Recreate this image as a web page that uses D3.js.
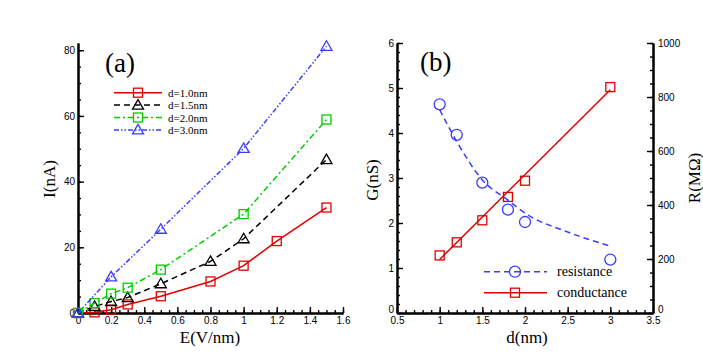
<!DOCTYPE html>
<html>
<head>
<meta charset="utf-8">
<script src="https://cdn.jsdelivr.net/npm/d3@7"></script>
<style>
  body { margin: 0; background: #fff; }
  .tick text { font-family: "Liberation Sans", Arial, sans-serif; font-size: 10px; fill: #000; }
  .title { font-family: "Liberation Serif", "Times New Roman", serif; fill: #000; }
</style>
</head>
<body>
<div class="content"></div>
<script>
// panel (a): current vs field
var e10 = [0, 0.1, 0.2, 0.3, 0.5, 0.8, 1.0, 1.2, 1.5];
var i10 = [0, 0.2, 1.0, 2.6, 5.1, 9.6, 14.4, 21.9, 32.1];
var e15 = [0, 0.1, 0.2, 0.3, 0.5, 0.8, 1.0, 1.5];
var i15 = [0, 2.0, 3.5, 4.7, 8.9, 15.7, 22.6, 46.7];
var e20 = [0, 0.1, 0.2, 0.3, 0.5, 1.0, 1.5];
var i20 = [0, 3.0, 5.9, 7.7, 13.2, 30.1, 58.9];
var e30 = [0, 0.2, 0.5, 1.0, 1.5];
var i30 = [0, 11.0, 25.5, 50.1, 81.2];
var labelsA = ["d=1.0nm", "d=1.5nm", "d=2.0nm", "d=3.0nm"];
var eTicks = [0, 0.2, 0.4, 0.6, 0.8, 1, 1.2, 1.4, 1.6];
var iTicks = [0, 20, 40, 60, 80];

// panel (b): conductance / resistance vs distance
var dPts = [1, 1.2, 1.5, 1.8, 2, 3];
var gPts = [1.28, 1.57, 2.06, 2.58, 2.94, 5.02];
var rPts = [773, 660, 483, 383, 337, 198];
var gFitD = [1, 3];
var gFit = [1.19, 4.96];
var rFitD = [1, 1.2, 1.5, 1.8, 2, 2.5, 3];
var rFit = [753, 635, 493, 418, 370, 300, 248];
var labelsB = ["resistance", "conductance"];
var dTicks = [0.5, 1, 1.5, 2, 2.5, 3, 3.5];
var gTicks = [0, 1, 2, 3, 4, 5, 6];
var rTicks = [0, 200, 400, 600, 800, 1000];

var red = "#e00000", black = "#000", green = "#00cc00", blue = "#3c3cff";

var svg = d3.select(".content").append("svg")
  .attr("width", 703)
  .attr("height", 354);

function fmt(d) { return String(d); }

function drawAxis(g, axis) {
  g.call(axis);
  g.select(".domain").attr("stroke-width", 2);
  g.selectAll(".tick line").attr("stroke-width", 1.4);
  return g;
}

function marker(g, type, x, y, color) {
  if (type == "square") {
    g.append("rect").attr("x", x - 4.5).attr("y", y - 4.5)
      .attr("width", 9).attr("height", 9)
      .attr("fill", "none").attr("stroke", color).attr("stroke-width", 1.3);
  } else if (type == "triangle") {
    g.append("path")
      .attr("d", "M" + x + "," + (y - 5.5) + "L" + (x + 5.5) + "," + (y + 4) + "L" + (x - 5.5) + "," + (y + 4) + "Z")
      .attr("fill", "none").attr("stroke", color).attr("stroke-width", 1.3);
  } else {
    g.append("circle").attr("cx", x).attr("cy", y).attr("r", 5.5)
      .attr("fill", "none").attr("stroke", color).attr("stroke-width", 1.3);
  }
}

// ---------- panel (a) ----------
var xA = d3.scaleLinear().domain([0, 1.6]).range([78, 343]);
var yA = d3.scaleLinear().domain([0, 82.2]).range([313, 43]);

var seriesA = [
  {x: e10, y: i10, color: red, dash: null, mk: "square"},
  {x: e15, y: i15, color: black, dash: "6,4", mk: "triangle"},
  {x: e20, y: i20, color: green, dash: "6,3,2,3", mk: "square"},
  {x: e30, y: i30, color: blue, dash: "5,2,1.5,2,1.5,2", mk: "triangle"}
];

var lineA = d3.line().x(function(d) { return xA(d[0]); }).y(function(d) { return yA(d[1]); });

drawAxis(svg.append("g").attr("transform", "translate(0,313)"),
  d3.axisBottom(xA).tickValues(d3.range(0, 1.601, 0.05)).tickSize(-3).tickSizeOuter(0).tickFormat(""));
drawAxis(svg.append("g").attr("transform", "translate(0,313)"),
  d3.axisBottom(xA).tickValues(eTicks).tickSize(-6).tickSizeOuter(0).tickPadding(4).tickFormat(fmt));
drawAxis(svg.append("g").attr("transform", "translate(78,0)"),
  d3.axisLeft(yA).tickValues(d3.range(0, 81, 5)).tickSize(-3).tickSizeOuter(0).tickFormat(""));
drawAxis(svg.append("g").attr("transform", "translate(78,0)"),
  d3.axisLeft(yA).tickValues(iTicks).tickSize(-6).tickSizeOuter(0).tickPadding(3).tickFormat(fmt));

seriesA.forEach(function(s) {
  var pts = s.x.map(function(v, i) { return [v, s.y[i]]; });
  svg.append("path").datum(pts).attr("d", lineA)
    .attr("fill", "none").attr("stroke", s.color).attr("stroke-width", 1.5)
    .attr("stroke-dasharray", s.dash);
  var g = svg.append("g");
  pts.forEach(function(p) { marker(g, s.mk, xA(p[0]), yA(p[1]), s.color); });
});

// legend (a)
seriesA.forEach(function(s, i) {
  var ly = 92.7 + i * 12.4;
  svg.append("line").attr("x1", 114).attr("x2", 162).attr("y1", ly).attr("y2", ly)
    .attr("stroke", s.color).attr("stroke-width", 1.5).attr("stroke-dasharray", s.dash);
  marker(svg.append("g"), s.mk, 138, ly, s.color);
  svg.append("text").attr("class", "title").attr("x", 168).attr("y", ly + 4)
    .style("font-size", "11px").text(labelsA[i]);
});

svg.append("text").attr("class", "title").attr("x", 105).attr("y", 72)
  .style("font-size", "27px").text("(a)");
svg.append("text").attr("class", "title").attr("x", 210).attr("y", 343)
  .attr("text-anchor", "middle").style("font-size", "17px").text("E(V/nm)");
svg.append("text").attr("class", "title").attr("transform", "translate(55,179) rotate(-90)")
  .attr("text-anchor", "middle").style("font-size", "17px").text("I(nA)");

// ---------- panel (b) ----------
var xB = d3.scaleLinear().domain([0.5, 3.5]).range([397, 653]);
var yG = d3.scaleLinear().domain([0, 6]).range([313, 43]);
var yR = d3.scaleLinear().domain([0, 1000]).range([313, 43]);

drawAxis(svg.append("g").attr("transform", "translate(0,313)"),
  d3.axisBottom(xB).tickValues(d3.range(0.5, 3.501, 0.1)).tickSize(-3).tickSizeOuter(0).tickFormat(""));
drawAxis(svg.append("g").attr("transform", "translate(0,313)"),
  d3.axisBottom(xB).tickValues(dTicks).tickSize(-6).tickSizeOuter(0).tickPadding(4).tickFormat(fmt));
drawAxis(svg.append("g").attr("transform", "translate(397,0)"),
  d3.axisLeft(yG).tickValues(d3.range(0, 6.01, 0.2)).tickSize(-3).tickSizeOuter(0).tickFormat(""));
var gAxis = drawAxis(svg.append("g").attr("transform", "translate(397,0)"),
  d3.axisLeft(yG).tickValues(gTicks).tickSize(-6).tickSizeOuter(0).tickPadding(3).tickFormat(fmt));
drawAxis(svg.append("g").attr("transform", "translate(653,0)"),
  d3.axisRight(yR).tickValues(d3.range(0, 1001, 50)).tickSize(-3).tickSizeOuter(0).tickFormat(""));
var rAxis = drawAxis(svg.append("g").attr("transform", "translate(653,0)"),
  d3.axisRight(yR).tickValues(rTicks).tickSize(-6).tickSizeOuter(0).tickPadding(5).tickFormat(fmt));
// the zero labels sit a little higher, clear of the bottom labels
gAxis.selectAll(".tick text").filter(function(d) { return d === 0; }).attr("dy", "-0.1em");
rAxis.selectAll(".tick text").filter(function(d) { return d === 0; }).attr("dy", "-0.1em");

// resistance fit (dashed) and points
svg.append("path")
  .datum(rFitD.map(function(v, i) { return [v, rFit[i]]; }))
  .attr("d", d3.line().curve(d3.curveMonotoneX)
    .x(function(d) { return xB(d[0]); }).y(function(d) { return yR(d[1]); }))
  .attr("fill", "none").attr("stroke", blue).attr("stroke-width", 1.5).attr("stroke-dasharray", "6,4");
var gr = svg.append("g");
dPts.forEach(function(d, i) { marker(gr, "circle", xB(d), yR(rPts[i]), blue); });

// conductance fit (solid) and points
svg.append("path")
  .datum(gFitD.map(function(v, i) { return [v, gFit[i]]; }))
  .attr("d", d3.line().x(function(d) { return xB(d[0]); }).y(function(d) { return yG(d[1]); }))
  .attr("fill", "none").attr("stroke", red).attr("stroke-width", 1.5);
var gg = svg.append("g");
dPts.forEach(function(d, i) { marker(gg, "square", xB(d), yG(gPts[i]), red); });

// legend (b)
[{color: blue, dash: "6,4", mk: "circle"}, {color: red, dash: null, mk: "square"}].forEach(function(s, i) {
  var ly = 271.7 + i * 21;
  svg.append("line").attr("x1", 484).attr("x2", 547).attr("y1", ly).attr("y2", ly)
    .attr("stroke", s.color).attr("stroke-width", 1.5).attr("stroke-dasharray", s.dash);
  marker(svg.append("g"), s.mk, 515, ly, s.color);
  svg.append("text").attr("class", "title").attr("x", 557).attr("y", ly + 4.5)
    .style("font-size", "14px").text(labelsB[i]);
});

svg.append("text").attr("class", "title").attr("x", 420).attr("y", 71)
  .style("font-size", "27px").text("(b)");
svg.append("text").attr("class", "title").attr("x", 527).attr("y", 343)
  .attr("text-anchor", "middle").style("font-size", "17px").text("d(nm)");
svg.append("text").attr("class", "title").attr("transform", "translate(378,180) rotate(-90)")
  .attr("text-anchor", "middle").style("font-size", "17px").text("G(nS)");
svg.append("text").attr("class", "title").attr("transform", "translate(700,178) rotate(-90)")
  .attr("text-anchor", "middle").style("font-size", "17px").text("R(MΩ)");
</script>
</body>
</html>
